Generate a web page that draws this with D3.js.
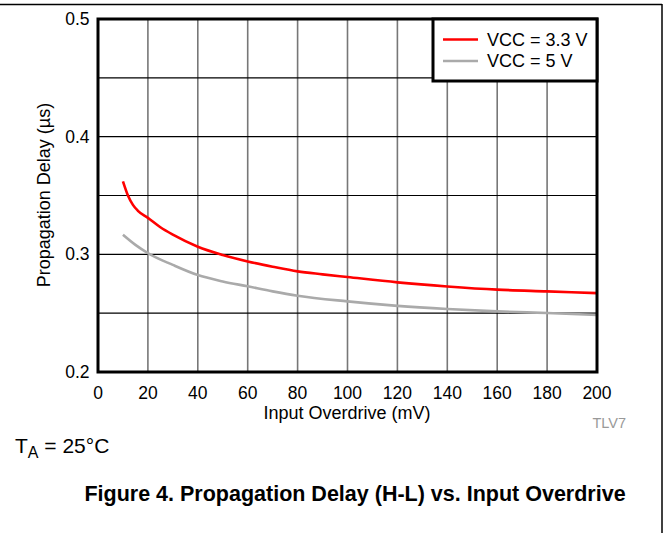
<!DOCTYPE html>
<html>
<head>
<meta charset="utf-8">
<script src="https://cdn.jsdelivr.net/npm/d3@7"></script>
<style>
	body { margin: 0; background: #fff; }
	svg { font-family: Arial, "Liberation Sans", sans-serif; }
</style>
</head>
<body>
<script>
// Data
const overdrive33 = [10, 12, 14, 16, 20, 25, 30, 40, 50, 60, 70, 80, 90, 100, 120, 140, 160, 180, 200];
const delay33 = [0.362, 0.350, 0.342, 0.337, 0.331, 0.323, 0.3167, 0.3065, 0.2995, 0.294, 0.2895, 0.2855, 0.283, 0.2807, 0.2762, 0.2727, 0.270, 0.2685, 0.267];
const overdrive5 = [10, 15, 20, 30, 40, 50, 60, 70, 80, 100, 120, 140, 160, 180, 200];
const delay5 = [0.3166, 0.308, 0.301, 0.291, 0.2824, 0.277, 0.2728, 0.2685, 0.2648, 0.26, 0.2562, 0.2535, 0.2515, 0.2501, 0.2485];
const xTicks = [0, 20, 40, 60, 80, 100, 120, 140, 160, 180, 200];
const yTicks = [0.2, 0.3, 0.4, 0.5];
const yGrid = [0.25, 0.3, 0.35, 0.4, 0.45];
const seriesNames = ['VCC = 3.3 V', 'VCC = 5 V'];
const seriesColors = ['#ff0000', '#aaaaaa'];

const W = 669, H = 533;
const svg = d3.select('body').append('svg').attr('width', W).attr('height', H);

// Outer frame (top and right edges)
svg.append('line').attr('x1', 0).attr('x2', 662).attr('y1', 4.5).attr('y2', 4.5).attr('stroke', '#000').attr('stroke-width', 1.5);
svg.append('line').attr('x1', 662).attr('x2', 662).attr('y1', 4).attr('y2', H).attr('stroke', '#000').attr('stroke-width', 1.5);

const plot = { left: 98, right: 597, top: 19, bottom: 372 };
const x = d3.scaleLinear().domain([0, 200]).range([plot.left, plot.right]);
const y = d3.scaleLinear().domain([0.2, 0.5]).range([plot.bottom, plot.top]);

// Grid
svg.append('g').selectAll('line').data(xTicks.slice(1, -1)).join('line')
	.attr('x1', d => x(d)).attr('x2', d => x(d)).attr('y1', plot.top).attr('y2', plot.bottom)
	.attr('stroke', '#777').attr('stroke-width', 1.6);
svg.append('g').selectAll('line').data(yGrid).join('line')
	.attr('x1', plot.left).attr('x2', plot.right).attr('y1', d => y(d)).attr('y2', d => y(d))
	.attr('stroke', '#000').attr('stroke-width', 1.2);

// Curves
const line = d3.line().x(d => x(d[0])).y(d => y(d[1])).curve(d3.curveMonotoneX);
const series = [d3.zip(overdrive33, delay33), d3.zip(overdrive5, delay5)];
svg.append('g').selectAll('path').data(series).join('path')
	.attr('d', line).attr('fill', 'none')
	.attr('stroke', (d, i) => seriesColors[i]).attr('stroke-width', 2.6);

// Plot frame
svg.append('rect').attr('x', plot.left).attr('y', plot.top)
	.attr('width', plot.right - plot.left).attr('height', plot.bottom - plot.top)
	.attr('fill', 'none').attr('stroke', '#000').attr('stroke-width', 3);

// Axes labels
svg.append('g').selectAll('text').data(yTicks).join('text')
	.attr('x', 89.5).attr('y', d => y(d)).attr('dy', '0.35em').attr('text-anchor', 'end')
	.attr('font-size', 17.5).text(d => d.toFixed(1));
svg.append('g').selectAll('text').data(xTicks).join('text')
	.attr('x', d => x(d)).attr('y', 399).attr('text-anchor', 'middle')
	.attr('font-size', 17.5).text(d => d);
svg.append('text').attr('x', 347).attr('y', 419).attr('text-anchor', 'middle')
	.attr('font-size', 18).text('Input Overdrive (mV)');
svg.append('text').attr('transform', 'translate(50,195) rotate(-90)').attr('text-anchor', 'middle')
	.attr('font-size', 18).text('Propagation Delay (µs)');

// Legend
const lg = svg.append('g');
lg.append('rect').attr('x', 433).attr('y', plot.top).attr('width', plot.right - 433).attr('height', 62)
	.attr('fill', '#fff').attr('stroke', '#000').attr('stroke-width', 3);
seriesNames.forEach((name, i) => {
	const ly = 39.5 + i * 21.5;
	lg.append('line').attr('x1', 443).attr('x2', 478).attr('y1', ly).attr('y2', ly)
		.attr('stroke', seriesColors[i]).attr('stroke-width', 2.6);
	lg.append('text').attr('x', 487).attr('y', ly).attr('dy', '0.36em')
		.attr('font-size', 18).text(name);
});

// Footer texts
svg.append('text').attr('x', 626).attr('y', 428).attr('text-anchor', 'end')
	.attr('font-size', 14.5).attr('fill', '#999').text('TLV7');
const ta = svg.append('text').attr('x', 15).attr('y', 453).attr('font-size', 21);
ta.append('tspan').text('T');
ta.append('tspan').attr('font-size', 16).attr('dy', 5).text('A');
ta.append('tspan').attr('dy', -5).text(' = 25°C');
svg.append('text').attr('x', 355).attr('y', 501).attr('text-anchor', 'middle')
	.attr('font-size', 21.5).attr('font-weight', 'bold')
	.text('Figure 4. Propagation Delay (H-L) vs. Input Overdrive');
</script>
</body>
</html>
